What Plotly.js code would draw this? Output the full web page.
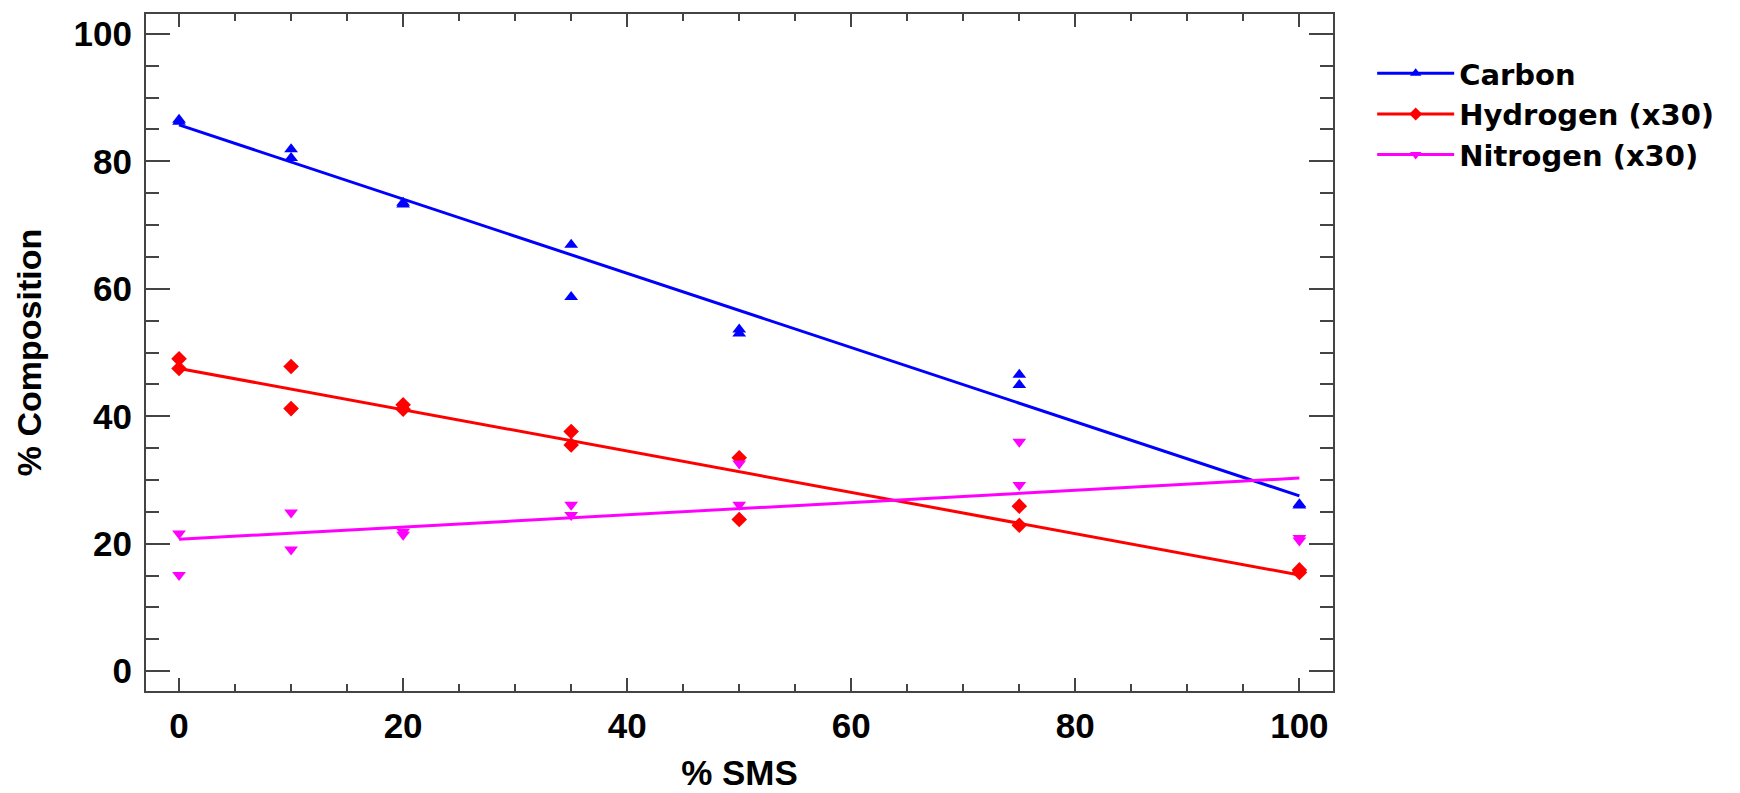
<!DOCTYPE html>
<html>
<head>
<meta charset="utf-8">
<script src="https://cdn.plot.ly/plotly-3.0.1.min.js"></script>
<style>
  html, body { margin: 0; padding: 0; background: #ffffff; }
  #chart { width: 1740px; height: 793px; }
</style>
</head>
<body>
<div id="chart"></div>
<script>
// ---- data ----
const smsLevels = [0, 0, 10, 10, 20, 20, 35, 35, 50, 50, 75, 75, 100, 100];
const carbon    = [86.5, 86.2, 81.9, 80.5, 73.5, 73.2, 66.9, 58.7, 53.6, 53.0, 46.5, 44.9, 26.2, 26.0];
const hydrogen  = [49.0, 47.5, 47.8, 41.2, 41.8, 41.1, 37.6, 35.5, 33.5, 23.8, 25.9, 22.9, 15.9, 15.5];
const nitrogen  = [21.6, 15.1, 24.9, 19.1, 21.9, 21.4, 26.1, 24.5, 26.1, 32.6, 36.0, 29.2, 20.9, 20.5];

// fitted lines (value at each end of the SMS range)
const fitX        = [0, 100];
const carbonFit   = [85.7, 27.5];
const hydrogenFit = [47.5, 15.1];
const nitrogenFit = [20.7, 30.3];

const seriesNames = ['Carbon', 'Hydrogen (x30)', 'Nitrogen (x30)'];
const xTickVals = [0, 20, 40, 60, 80, 100];
const yTickVals = [0, 20, 40, 60, 80, 100];

// ---- styles ----
const colors  = ['#0000ff', '#ff0000', '#ff00ff'];
const symbols = ['triangle-up', 'diamond', 'triangle-down'];
const msizes  = [12, 12, 12];
const FONT = 'Liberation Sans, Arial, sans-serif';
const LEGFONT = 'DejaVu Sans, Liberation Sans, sans-serif';
const AXC = '#444444';

const pts = [carbon, hydrogen, nitrogen];
const fits = [carbonFit, hydrogenFit, nitrogenFit];

const traces = [];
for (let i = 0; i < 3; i++) {
  traces.push({
    x: fitX, y: fits[i], type: 'scatter', mode: 'lines',
    line: { color: colors[i], width: 3 }, showlegend: false, hoverinfo: 'skip'
  });
}
for (let i = 0; i < 3; i++) {
  traces.push({
    x: smsLevels, y: pts[i], type: 'scatter', mode: 'markers',
    marker: { color: colors[i], symbol: symbols[i], size: msizes[i] },
    showlegend: false
  });
}
// legend entries (line + marker)
for (let i = 0; i < 3; i++) {
  traces.push({
    x: [null], y: [null], type: 'scatter', mode: 'lines+markers', name: seriesNames[i],
    line: { color: colors[i], width: 3 },
    marker: { color: colors[i], symbol: symbols[i], size: 10 },
    showlegend: true
  });
}

const axisCommon = {
  showgrid: false, zeroline: false,
  showline: true, linecolor: AXC, linewidth: 2, mirror: 'ticks',
  ticks: 'inside', tickcolor: AXC, tickwidth: 2,
  tickfont: { family: FONT, size: 35, color: '#000', weight: 'bold' },
  tickmode: 'array'
};

const layout = {
  width: 1740, height: 793, autosize: false,
  paper_bgcolor: '#ffffff', plot_bgcolor: '#ffffff',
  margin: { l: 146, r: 407, t: 14, b: 102, pad: 0 },
  showlegend: true,
  legend: {
    x: 1.033, xanchor: 'left', y: 0.95, yanchor: 'top',
    font: { family: LEGFONT, size: 29, color: '#000', weight: 'bold' },
    bgcolor: 'rgba(0,0,0,0)', borderwidth: 0, itemwidth: 77,
    traceorder: 'normal'
  },
  xaxis: Object.assign({}, axisCommon, {
    range: [-2.95, 103.0], tickvals: xTickVals, ticklen: 13, ticklabelstandoff: 3,
    minor: { dtick: 5, tick0: 0, ticks: 'inside', ticklen: 7, tickwidth: 2, tickcolor: AXC, showgrid: false },
    title: { text: '% SMS', font: { family: FONT, size: 35, color: '#000', weight: 'bold' }, standoff: 16 }
  }),
  yaxis: Object.assign({}, axisCommon, {
    range: [-3.1, 103.1], tickvals: yTickVals, ticklen: 24, ticklabelstandoff: 5,
    minor: { dtick: 5, tick0: 0, ticks: 'inside', ticklen: 13, tickwidth: 2, tickcolor: AXC, showgrid: false },
    title: { text: '% Composition', font: { family: FONT, size: 34, color: '#000', weight: 'bold' }, standoff: 22 }
  })
};

Plotly.newPlot('chart', traces, layout, { displayModeBar: false, staticPlot: true });
</script>
</body>
</html>
